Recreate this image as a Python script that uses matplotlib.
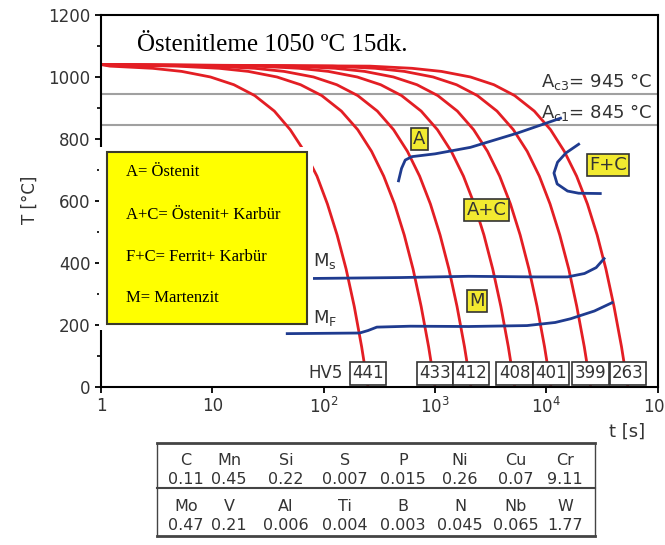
import matplotlib
matplotlib.use('Agg')
import matplotlib.pyplot as plt
from matplotlib.patches import Rectangle
from matplotlib.ticker import FixedLocator, FixedFormatter, NullLocator

plt.rcParams['font.family'] = 'DejaVu Sans'

# cooling curves: common temperatures, time (s) per curve
cool_T = [1040, 1035, 1028, 1018, 1000, 975, 940, 890, 830, 760, 680, 590, 490, 380, 260, 130, 0]
cool_t = [
    [1, 1.2, 2.9, 5.3, 9.6, 15.6, 24, 36, 50, 67, 87, 108, 132, 159, 188, 219, 250],
    [1, 4.8, 11.5, 21, 38, 62, 96, 144, 202, 269, 346, 433, 529, 635, 750, 875, 1000],
    [1, 10, 24, 44, 81, 131, 202, 303, 424, 565, 727, 909, 1110, 1333, 1575, 1838, 2100],
    [1, 25, 60, 110, 200, 325, 500, 750, 1050, 1400, 1800, 2250, 2750, 3300, 3900, 4550, 5200],
    [1, 53, 127, 233, 423, 688, 1058, 1586, 2221, 2961, 3808, 4760, 5817, 6981, 8250, 9625, 11000],
    [1, 120, 290, 530, 960, 1560, 2400, 3600, 5050, 6730, 8650, 10800, 13200, 15900, 18750, 21900, 25000],
    [1, 260, 620, 1140, 2080, 3380, 5190, 7790, 10900, 14500, 18700, 23400, 28600, 34300, 40500, 47300, 54000],
]
hardness = [441, 433, 412, 408, 401, 399, 263]

# transformation lines
a_start_t = [470, 500, 540, 620, 1000, 2080, 5500, 13400]
a_start_T = [665, 705, 732, 743, 752, 773, 819, 867]
fc_t = [19500, 15000, 12600, 11700, 12500, 15500, 19500, 30500]
fc_T = [783, 755, 725, 690, 655, 632, 625, 624]
ms_t = [80, 500, 2000, 8000, 15500, 22000, 28000, 33000]
ms_T = [350, 353, 357, 355, 355, 366, 385, 414]
mf_t = [47, 210, 250, 300, 600, 2000, 6700, 12000, 16500, 27000, 39000]
mf_T = [172, 174, 182, 193, 196, 195, 198, 208, 220, 245, 272]

Ac3 = 945
Ac1 = 845

legend_lines = ['A= Östenit', 'A+C= Östenit+ Karbür', 'F+C= Ferrit+ Karbür', 'M= Martenzit']

elements1 = ['C', 'Mn', 'Si', 'S', 'P', 'Ni', 'Cu', 'Cr']
values1 = ['0.11', '0.45', '0.22', '0.007', '0.015', '0.26', '0.07', '9.11']
elements2 = ['Mo', 'V', 'Al', 'Ti', 'B', 'N', 'Nb', 'W']
values2 = ['0.47', '0.21', '0.006', '0.004', '0.003', '0.045', '0.065', '1.77']

red = '#e31e24'
blue = '#1f3b8f'
txt = '#333333'

fig = plt.figure(figsize=(6.65, 5.45), dpi=100)
ax = fig.add_axes([0.152, 0.29, 0.837, 0.6825])
ax.set_xscale('log')
ax.set_xlim(1, 1e5)
ax.set_ylim(0, 1200)

for s in ax.spines.values():
    s.set_linewidth(1.5)

ax.xaxis.set_major_locator(FixedLocator([1, 10, 100, 1e3, 1e4, 1e5]))
ax.xaxis.set_major_formatter(FixedFormatter(['1', '10', '$10^2$', '$10^3$', '$10^4$', '$10^5$']))
ax.xaxis.set_minor_locator(NullLocator())
ax.set_yticks(range(0, 1201, 200))
ax.set_yticks(range(100, 1200, 200), minor=True)
ax.tick_params(which='major', direction='out', length=4, width=1.3, labelsize=12, labelcolor=txt)
ax.tick_params(which='minor', direction='out', length=3, width=1.2)

ax.axhline(Ac3, color='#a0a0a0', lw=1.5, zorder=1)
ax.axhline(Ac1, color='#a0a0a0', lw=1.5, zorder=1)
ax.text(9e4, Ac3 + 8, 'A$_{\\rm c3}$= %d °C' % Ac3, ha='right', va='bottom', fontsize=13, color=txt)
ax.text(9e4, Ac1 + 8, 'A$_{\\rm c1}$= %d °C' % Ac1, ha='right', va='bottom', fontsize=13, color=txt)

for tt in cool_t:
    ax.plot(tt, cool_T, color=red, lw=2, zorder=2)

for tx, ty in [(a_start_t, a_start_T), (fc_t, fc_T), (ms_t, ms_T), (mf_t, mf_T)]:
    ax.plot(tx, ty, color=blue, lw=2, zorder=3)

ax.text(80, 405, 'M$_{\\rm s}$', fontsize=13, color=txt, ha='left', va='center')
ax.text(80, 222, 'M$_{\\rm F}$', fontsize=13, color=txt, ha='left', va='center')

# phase field labels
box = dict(boxstyle='square,pad=0.12', fc='#f2ea30', ec='#333333', lw=1.2)
for s, x, y in [('A', 724, 799), ('F+C', 35600, 715), ('A+C', 2900, 570), ('M', 2400, 278)]:
    ax.text(x, y, s, fontsize=13, color=txt, ha='center', va='center', bbox=box, zorder=5)

# hardness boxes at the end of each curve
ax.text(103, 45, 'HV5', fontsize=12, color=txt, ha='center', va='center')
hvbox = dict(boxstyle='square,pad=0.15', fc='white', ec='#333333', lw=1.2)
for tt, hv in zip(cool_t, hardness):
    ax.text(tt[-1], 45, str(hv), fontsize=12, color=txt, ha='center', va='center', bbox=hvbox, zorder=5)

# legend panel
ax.add_patch(Rectangle((-0.004, 0.153), 0.385, 0.492, transform=ax.transAxes,
                       fc='white', ec='none', clip_on=False, zorder=6))
ax.add_patch(Rectangle((0.011, 0.169), 0.359, 0.463, transform=ax.transAxes,
                       fc='#ffff00', ec='#3a3a2a', lw=1.5, clip_on=False, zorder=7))
for s, y in zip(legend_lines, [0.578, 0.462, 0.349, 0.239]):
    ax.text(0.045, y, s, transform=ax.transAxes, family='Liberation Serif', fontsize=12,
            color='black', va='center', zorder=8)

ax.text(0.307, 0.919, 'Östenitleme 1050 ºC 15dk.', transform=ax.transAxes,
        family='Liberation Serif', fontsize=18, color='black', ha='center', va='center')

fig.text(0.045, 0.633, 'T [°C]', rotation=90, fontsize=12, color=txt, ha='center', va='center')
fig.text(0.943, 0.207, 't [s]', fontsize=13, color=txt, ha='center', va='center')

# composition table
cols = [186, 229, 286, 345, 403, 460, 516, 565]
for y in [0.187, 0.0165]:
    fig.add_artist(plt.Line2D([0.236, 0.895], [y, y], color='#444444', lw=2))
fig.add_artist(plt.Line2D([0.236, 0.895], [0.1046, 0.1046], color='#444444', lw=1.5))
for x in [0.236, 0.895]:
    fig.add_artist(plt.Line2D([x, x], [0.0165, 0.187], color='#444444', lw=1))
for row, y in [(elements1, 0.155), (values1, 0.120), (elements2, 0.070), (values2, 0.035)]:
    for c, s in zip(cols, row):
        fig.text(c / 665, y, s, fontsize=11.5, color=txt, ha='center', va='center')

fig.savefig('out.png', dpi=100)
